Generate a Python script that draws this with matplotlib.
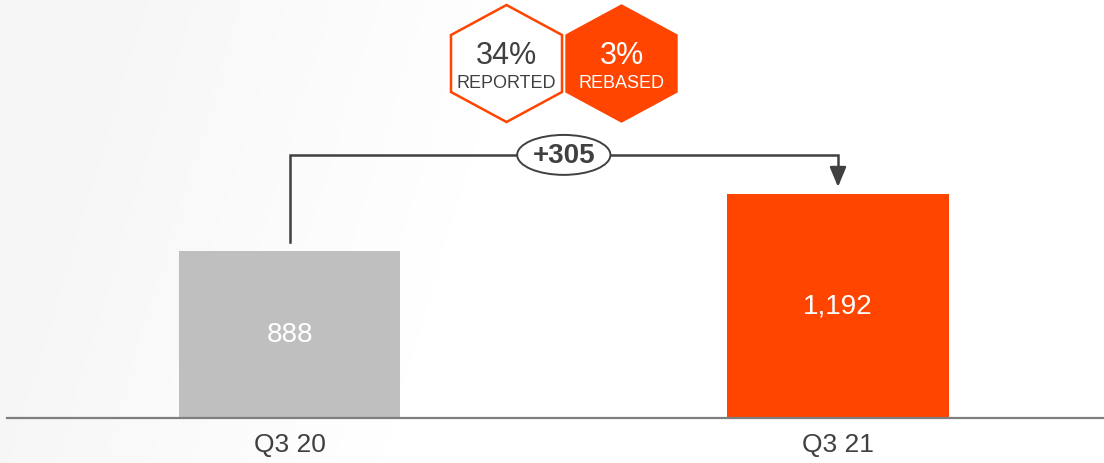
import matplotlib
matplotlib.use('Agg')
import matplotlib.pyplot as plt
import numpy as np
from matplotlib.patches import Polygon, Ellipse

plt.rcParams['font.family'] = ['Liberation Sans', 'DejaVu Sans']

# Data
categories = ['Q3 20', 'Q3 21']
values = [888, 1192]
value_labels = ['888', '1,192']
change_label = '+305'
badge_values = ['34%', '3%']
badge_names = ['REPORTED', 'REBASED']

orange = '#ff4500'
grey = '#bfbfbf'
dark = '#404040'
bar_colors = [grey, orange]

fig = plt.figure(figsize=(11.04, 4.63), dpi=100)
fig.patch.set_facecolor('white')

# very subtle slanted grey gradient on the left
bg = fig.add_axes([0, 0, 1, 1])
bg.set_axis_off()
xx, yy = np.meshgrid(np.linspace(0, 1104, 300), np.linspace(0, 463, 120))
t = np.clip((xx + 0.3 * (yy - 463)) / 380.0, 0, 1)
shade = 0.968 + 0.032 * t
bg.imshow(np.dstack([shade, shade, shade]), extent=[0, 1104, 463, 0], aspect='auto')
bg.set_xlim(0, 1104)
bg.set_ylim(463, 0)

ax = fig.add_axes([0, 0, 1, 1])
ax.set_facecolor('none')
ax.set_axis_off()

x = np.arange(len(categories))
bar_w = 0.403
ax.bar(x, values, width=bar_w, color=bar_colors, zorder=2)
ax.set_xlim(-0.528, 1.485)
ax.set_ylim(-240, 2229)

# baseline
ax.axhline(0, xmin=0.006, xmax=1, color='#7f7f7f', lw=1.6, zorder=3)

# value labels inside bars
for xi, v, lab in zip(x, values, value_labels):
    ax.text(xi, v / 2, lab, ha='center', va='center', color='white', fontsize=20, zorder=4)

# category labels
for xi, c in zip(x, categories):
    ax.text(xi, -144, c, ha='center', va='center', color=dark, fontsize=19)

# bracket arrow between the bars
gap = 48
level = max(values) + 211
ax.plot([x[0], x[0], x[1], x[1]], [values[0] + gap, level, level, values[1] + gap + 80],
        color=dark, lw=1.8, solid_joinstyle='miter', zorder=3)
ax.annotate('', xy=(x[1], values[1] + 40), xytext=(x[1], values[1] + 130),
            arrowprops=dict(arrowstyle='-|>,head_width=0.5,head_length=1.2',
                            color=dark, lw=1.8, shrinkA=0, shrinkB=0), zorder=3)
ell = Ellipse((0.5, level), 0.17, 213, facecolor='white', edgecolor=dark, lw=1.4, zorder=4)
ax.add_patch(ell)
ax.text(0.5, level - 5, change_label, ha='center', va='center', color=dark, fontsize=20,
        fontweight='bold', zorder=5)

# hexagon badges (pixel space overlay)
ov = fig.add_axes([0, 0, 1, 1])
ov.set_facecolor('none')
ov.set_axis_off()
ov.set_xlim(0, 1104)
ov.set_ylim(463, 0)

hex_cx = [506.5, 621.5]
hex_cy = 63.5
hw, hh, hs = 55.5, 58.5, 28.5
for i, (cx, val, name) in enumerate(zip(hex_cx, badge_values, badge_names)):
    verts = [(cx, hex_cy - hh), (cx + hw, hex_cy - hs), (cx + hw, hex_cy + hs),
             (cx, hex_cy + hh), (cx - hw, hex_cy + hs), (cx - hw, hex_cy - hs)]
    if i == 0:
        poly = Polygon(verts, closed=True, facecolor='white', edgecolor=orange, lw=1.8)
        tc = dark
    else:
        poly = Polygon(verts, closed=True, facecolor=orange, edgecolor=orange, lw=1.0)
        tc = 'white'
    ov.add_patch(poly)
    ov.text(cx, 56, val, ha='center', va='center', color=tc, fontsize=22)
    ov.text(cx, 83, name, ha='center', va='center', color=tc, fontsize=13)

fig.savefig('out.png', dpi=100)
